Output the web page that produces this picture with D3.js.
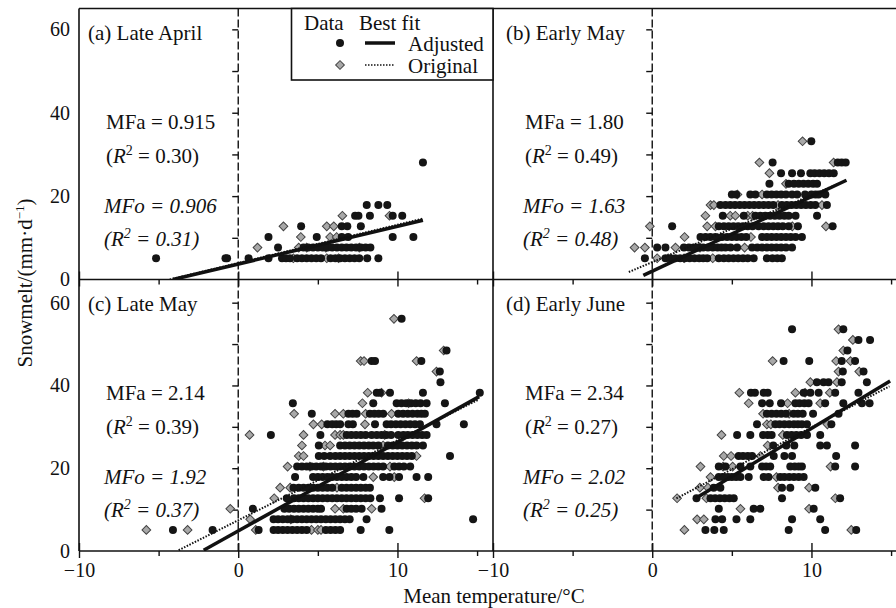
<!DOCTYPE html>
<html>
<head>
<meta charset="utf-8">
<script src="https://cdn.jsdelivr.net/npm/d3@7"></script>
<style>
  body { margin: 0; background: #fff; }
  text { font-family: "Liberation Serif", "Times New Roman", serif; fill: #111; }
</style>
</head>
<body>
<script>
// each row: [snowmelt (mm/d), [mean temperatures]]
// circles = adjusted data, diamonds = original data
var aprilAdj = [
  [28.05, [11.6]],
  [17.85, [8.07, 8.8, 9.36]],
  [15.3, [7.34, 7.55, 8.27, 9.7, 10.3]],
  [12.75, [3.95, 6.5, 6.85, 7.7]],
  [10.2, [1.9, 4.93, 6.5, 6.9, 9.7, 11.0]],
  [7.65, [2.5, 4.1, 4.4, 4.7, 5.0, 5.3, 5.6, 5.9, 6.2, 6.5, 6.8, 7.1, 7.4, 7.7, 8.0, 8.3]],
  [5.1, [-5.16, -0.8, -0.7, 0.65, 1.9, 2.75, 3.0, 3.25, 3.7, 4.0, 4.3, 4.6, 4.9, 5.2, 5.8, 6.1, 6.4, 6.7, 7.0, 7.3, 7.6, 8.1, 8.8]]
];
var aprilOrig = [
  [15.3, [6.54, 9.5]],
  [12.75, [2.84, 5.56, 6.0]],
  [10.2, [3.93, 5.77, 6.18]],
  [7.65, [1.21, 3.8, 4.3, 5.5, 7.6]],
  [5.1, [3.46, 5.56, 6.3]]
];
var earlyMayAdj = [
  [33.15, [9.99]],
  [28.05, [7.56, 11.65, 11.9, 12.15]],
  [25.5, [8.09, 8.78, 9.34, 9.93, 10.2, 10.5, 10.8, 11.1, 11.4]],
  [22.95, [7.36, 8.57, 8.9, 9.2, 9.5, 9.8, 10.1, 10.35]],
  [20.4, [5.0, 5.27, 6.16, 6.48, 7.2, 7.5, 7.8, 8.1, 8.4, 8.78, 9.1, 9.6, 10.0, 10.25, 10.45, 10.87]],
  [17.85, [4.28, 4.6, 4.9, 5.2, 5.5, 5.8, 6.1, 6.4, 6.7, 7.0, 7.3, 7.6, 8.14, 8.45, 8.75, 9.05, 9.35, 9.65, 9.95, 10.24, 10.97]],
  [15.3, [4.43, 5.75, 6.48, 6.8, 7.1, 7.4, 7.7, 8.0, 8.3, 8.57, 9.0, 10.35]],
  [12.75, [1.25, 4.18, 4.5, 4.8, 5.1, 5.4, 5.7, 6.0, 6.3, 6.68, 7.0, 7.3, 7.6, 7.9, 8.2, 8.57, 9.15, 11.33]],
  [10.2, [3.03, 3.35, 3.65, 3.97, 4.39, 4.7, 5.0, 5.3, 5.6, 5.9, 6.9, 7.2, 7.5, 7.8, 8.1, 8.4, 8.7, 9.0, 9.4]],
  [7.65, [0.31, 0.83, 1.99, 2.3, 2.6, 2.9, 3.2, 3.5, 3.8, 4.1, 4.35, 4.6, 4.92, 5.33, 6.27, 6.6, 6.9, 7.2, 7.5, 7.8, 8.1, 8.4, 8.78]],
  [5.1, [-0.46, 0.83, 1.15, 1.45, 1.75, 2.05, 2.35, 2.65, 2.95, 3.2, 3.45, 4.18, 4.5, 4.8, 5.1, 5.4, 5.7, 6.0, 6.37, 7.2, 7.55, 7.85, 8.14]]
];
var earlyMayOrig = [
  [33.15, [9.44]],
  [28.05, [6.73, 11.39]],
  [25.5, [7.36]],
  [22.95, [8.4]],
  [20.4, [5.35, 6.9]],
  [17.85, [3.66, 3.87, 7.9, 10.66]],
  [15.3, [3.34, 4.9, 5.22, 6.0, 6.3]],
  [12.75, [-0.15, 3.45, 3.97, 8.8, 10.91]],
  [10.2, [2.03, 6.2]],
  [7.65, [-1.11, -0.46, 1.46, 3.0, 5.8]],
  [5.1, [0.31, 1.0, 2.0, 3.8]]
];
var lateMayAdj = [
  [56.1, [10.26]],
  [48.45, [13.08]],
  [45.9, [8.38, 8.59, 11.5]],
  [43.35, [12.66]],
  [40.8, [12.7]],
  [38.25, [8.7, 8.9, 9.53, 11.6, 15.17]],
  [35.7, [3.43, 8.48, 9.95, 10.25, 10.55, 10.85, 11.15, 11.45, 11.83, 12.98]],
  [33.15, [4.62, 6.92, 7.18, 7.44, 8.27, 8.55, 8.82, 9.1, 10.05, 10.35, 10.65, 10.95, 11.25, 11.5, 11.72]],
  [30.6, [5.6, 5.9, 6.15, 6.4, 6.92, 7.2, 8.59, 9.32, 9.6, 9.9, 10.2, 10.5, 10.8, 11.1, 11.41, 12.45, 14.17]],
  [28.05, [2.05, 5.16, 6.81, 7.1, 7.4, 7.7, 8.0, 8.38, 8.7, 9.0, 9.3, 9.6, 10.05, 10.37, 10.65, 10.95, 11.25, 11.55, 11.83]],
  [25.5, [5.06, 6.4, 6.7, 7.0, 7.3, 7.6, 7.9, 8.2, 8.48, 8.8, 9.4, 9.7, 10.0, 10.3, 10.6, 10.9, 11.2, 11.6]],
  [22.95, [5.06, 5.4, 5.77, 6.1, 6.4, 6.7, 7.0, 7.3, 7.6, 7.9, 8.2, 8.5, 8.8, 9.1, 9.4, 9.7, 10.0, 10.3, 10.6, 10.9, 13.3]],
  [20.4, [3.7, 4.0, 4.3, 4.6, 4.9, 5.2, 5.5, 5.8, 6.1, 6.4, 6.7, 7.0, 7.3, 7.6, 7.9, 8.2, 8.5, 8.8, 9.1, 9.8, 10.1, 10.4, 10.8]],
  [17.85, [3.57, 4.7, 5.0, 5.3, 5.6, 5.9, 6.2, 6.5, 6.8, 7.1, 7.4, 7.86, 9.1, 9.5, 10.1, 11.2, 11.93]],
  [15.3, [3.47, 3.8, 4.1, 4.4, 4.7, 5.0, 5.3, 5.6, 5.9, 6.5, 6.8, 7.1, 7.4, 7.7, 8.0, 8.27]],
  [12.75, [3.05, 3.5, 3.8, 4.1, 4.4, 4.7, 5.0, 5.3, 5.6, 5.9, 6.2, 6.5, 6.8, 7.1, 7.4, 7.7, 8.0, 8.3, 8.9, 10.1, 11.93]],
  [10.2, [0.92, 2.9, 3.2, 3.5, 3.8, 4.1, 4.4, 4.7, 5.0, 5.2, 6.81, 7.1, 7.4, 7.75, 9.0]],
  [7.65, [2.22, 2.5, 2.8, 3.1, 3.4, 3.7, 4.0, 4.3, 4.6, 4.9, 5.2, 5.5, 5.8, 6.1, 6.4, 6.7, 7.0, 8.06, 14.75]],
  [5.1, [-4.1, -1.61, 1.28, 2.22, 2.5, 2.8, 3.1, 3.4, 3.7, 4.0, 4.3, 5.5, 5.8, 6.1, 6.4, 7.69, 9.49]]
];
var lateMayOrig = [
  [56.1, [9.78]],
  [48.45, [12.9]],
  [45.9, [7.69, 7.9, 11.2]],
  [43.35, [12.45]],
  [38.25, [8.13, 9.0]],
  [35.7, [7.8, 10.7]],
  [33.15, [3.51, 6.08, 6.6, 8.0, 9.63]],
  [30.6, [4.72, 5.24, 7.96]],
  [28.05, [0.71, 4.1, 6.08, 6.4, 6.6, 9.2]],
  [25.5, [4.0, 5.45, 5.77, 9.1]],
  [22.95, [3.8, 4.1, 11.2]],
  [20.4, [3.1, 4.5, 5.35, 9.53]],
  [17.85, [8.48, 9.8]],
  [15.3, [2.63, 3.26, 6.2]],
  [12.75, [2.26, 11.7]],
  [10.2, [-0.5, 6.08, 6.6, 8.38]],
  [7.65, [0.75, 3.3]],
  [5.1, [-5.77, -3.18, 1.1, 4.6, 5.0, 5.2]]
];
var earlyJuneAdj = [
  [53.55, [8.78, 12.0]],
  [51.0, [12.95, 13.68]],
  [48.45, [12.26]],
  [45.9, [8.25, 9.86, 11.9, 12.74]],
  [43.35, [11.97, 13.27]],
  [40.8, [10.34, 10.76, 11.07, 11.9, 13.48]],
  [38.25, [6.2, 6.45, 7.0, 7.25, 9.51, 9.93, 10.45, 11.49, 12.95]],
  [35.7, [6.9, 7.38, 8.09, 8.99, 9.25, 9.55, 9.82, 10.86, 12.0, 13.17, 13.65]],
  [33.15, [7.2, 7.5, 7.8, 8.1, 8.4, 8.88, 9.15, 9.45, 10.1, 11.7]],
  [30.6, [6.58, 7.73, 8.0, 8.3, 8.6, 8.9, 9.15, 9.4, 9.72, 11.25]],
  [28.05, [5.33, 6.16, 6.96, 7.25, 7.5, 8.46, 8.75, 9.05, 9.35, 9.72, 10.55]],
  [25.5, [7.6, 8.42, 8.92, 10.55, 10.97, 12.74]],
  [22.95, [5.43, 5.7, 6.0, 6.27, 7.63, 8.3, 8.78, 11.55]],
  [20.4, [4.18, 4.6, 5.54, 6.16, 6.9, 7.15, 7.41, 8.67, 8.95, 9.2, 9.4, 11.49, 12.74]],
  [17.85, [4.18, 4.45, 4.75, 5.0, 5.27, 5.54, 6.06, 7.0, 7.3, 8.04, 8.3, 8.6, 8.9, 9.2, 9.51]],
  [15.3, [3.86, 4.28, 8.15, 8.67, 10.24]],
  [12.75, [2.78, 3.66, 3.95, 4.25, 4.55, 4.85, 5.12, 8.15, 11.8]],
  [10.2, [4.18, 6.37, 6.79, 10.14]],
  [7.65, [3.97, 4.39, 5.29, 6.16, 8.78, 10.55]],
  [5.1, [3.34, 3.9, 4.49, 8.57, 10.86, 12.81]]
];
var earlyJuneOrig = [
  [53.55, [11.7]],
  [51.0, [12.6]],
  [48.45, [12.0]],
  [45.9, [7.56, 11.55, 12.45]],
  [43.35, [11.7, 13.0]],
  [40.8, [9.93, 11.6]],
  [38.25, [5.47, 8.99, 9.6, 11.15]],
  [35.7, [6.06, 8.5, 10.55]],
  [33.15, [6.96, 8.6]],
  [30.6, [7.2, 7.45, 11.0]],
  [28.05, [4.35, 8.2]],
  [25.5, [7.25]],
  [22.95, [4.49, 4.95, 6.8]],
  [20.4, [3.03, 4.45, 5.05, 11.2]],
  [17.85, [3.66, 7.8]],
  [15.3, [2.99, 3.5, 7.9, 9.85]],
  [12.75, [1.56, 3.4, 11.5]],
  [10.2, [5.54, 9.85]],
  [7.65, [2.82, 3.24]],
  [5.1, [2.02, 12.5]]
];

// best fit line end points [temperature, snowmelt]
var aprilFitAdj = [[-4.1, 0], [11.6, 14.2]];
var aprilFitOrig = [[-4.3, 0], [11.6, 14.6]];
var earlyMayFitAdj = [[-0.56, 1.0], [12.2, 23.8]];
var earlyMayFitOrig = [[-1.47, 1.8], [11.6, 22.8]];
var lateMayFitAdj = [[-2.17, 0.2], [15.13, 37.3]];
var lateMayFitOrig = [[-3.74, 0.2], [15.1, 36.6]];
var earlyJuneFitAdj = [[2.71, 12.7], [14.94, 41.1]];
var earlyJuneFitOrig = [[1.52, 12.7], [14.9, 39.8]];

var titles = ["(a) Late April", "(b) Early May", "(c) Late May", "(d) Early June"];
var mfa = ["0.915", "1.80", "2.14", "2.34"];
var r2a = ["0.30", "0.49", "0.39", "0.27"];
var mfo = ["0.906", "1.63", "1.92", "2.02"];
var r2o = ["0.31", "0.48", "0.37", "0.25"];

var xTicksMajor = [-10, 0, 10];
var xTicksMinor = [-5, 5, 15];
var yLabelTicks = [0, 20, 40, 60];
var yTicks = [10, 20, 30, 40, 50, 60];

var width = 896, height = 608;
var svg = d3.select('body').append('svg')
  .attr('width', width)
  .attr('height', height);

// panel geometry
var cols = [[79, 493], [493, 907]];
var rows = [{ range: [279.5, 8.5], top: 8.5, bottom: 279.5, max: 65 },
            { range: [551, 279.5], top: 279.5, bottom: 551, max: 65.6 }];

var panels = [
  { adj: aprilAdj, orig: aprilOrig, fa: aprilFitAdj, fo: aprilFitOrig },
  { adj: earlyMayAdj, orig: earlyMayOrig, fa: earlyMayFitAdj, fo: earlyMayFitOrig },
  { adj: lateMayAdj, orig: lateMayOrig, fa: lateMayFitAdj, fo: lateMayFitOrig },
  { adj: earlyJuneAdj, orig: earlyJuneOrig, fa: earlyJuneFitAdj, fo: earlyJuneFitOrig }
];

function flatten(rowsData) {
  var out = [];
  rowsData.forEach(function(r) {
    r[1].forEach(function(t) { out.push([t, r[0]]); });
  });
  return out;
}

var diamond = d3.symbol().type(d3.symbolSquare).size(38)();

panels.forEach(function(p, i) {
  var c = i % 2, r = Math.floor(i / 2);
  var x = d3.scaleLinear().domain([-10, 16]).range(cols[c]);
  var y = d3.scaleLinear().domain([0, rows[r].max]).range(rows[r].range);
  var x0 = cols[c][0], top = rows[r].top, bottom = rows[r].bottom;

  var g = svg.append('g');

  svg.append('clipPath').attr('id', 'clip' + i)
    .append('rect')
    .attr('x', x0).attr('y', top)
    .attr('width', cols[c][1] - x0).attr('height', bottom - top);

  // dashed zero line
  g.append('line')
    .attr('x1', x(0)).attr('x2', x(0))
    .attr('y1', top).attr('y2', bottom)
    .attr('stroke', '#111')
    .attr('stroke-width', 1.4)
    .attr('stroke-dasharray', '8,3');

  // y ticks on the zero line
  var ya = g.append('g')
    .attr('transform', 'translate(' + x(0) + ',0)')
    .call(d3.axisLeft(y).tickValues(yTicks).tickSize(6).tickFormat(''));
  ya.select('.domain').remove();
  ya.selectAll('line').attr('stroke', '#111').attr('stroke-width', 1.4);

  // x ticks
  var xa1 = g.append('g')
    .attr('transform', 'translate(0,' + bottom + ')')
    .call(d3.axisBottom(x).tickValues(xTicksMinor).tickSize(5).tickFormat(''));
  var xa2 = g.append('g')
    .attr('transform', 'translate(0,' + bottom + ')')
    .call(d3.axisBottom(x).tickValues(xTicksMajor).tickSize(7).tickFormat(''));
  var xa3 = g.append('g')
    .attr('transform', 'translate(0,' + bottom + ')')
    .call(d3.axisBottom(x).tickValues(xTicksMajor).tickSize(-8).tickFormat(''));
  [xa1, xa2, xa3].forEach(function(a) {
    a.select('.domain').remove();
    a.selectAll('line').attr('stroke', '#111').attr('stroke-width', 1.4);
  });

  if (c === 0) {
    var yl = g.append('g')
      .attr('transform', 'translate(' + x0 + ',0)')
      .call(d3.axisLeft(y).tickValues(yLabelTicks).tickSize(0).tickPadding(9));
    yl.select('.domain').remove();
    yl.selectAll('text')
      .style('font-family', '"Liberation Serif", serif')
      .style('font-size', '20px').attr('fill', '#111');
  }
  if (r === 1) {
    var xl = g.append('g')
      .attr('transform', 'translate(0,' + bottom + ')')
      .call(d3.axisBottom(x).tickValues(xTicksMajor).tickSize(0).tickPadding(12));
    xl.select('.domain').remove();
    xl.selectAll('text')
      .style('font-family', '"Liberation Serif", serif')
      .style('font-size', '20px').attr('fill', '#111');
  }

  var marks = g.append('g').attr('clip-path', 'url(#clip' + i + ')');

  // original data (diamonds)
  marks.selectAll('path.orig')
    .data(flatten(p.orig))
    .enter().append('path')
    .attr('class', 'orig')
    .attr('d', diamond)
    .attr('transform', function(d) { return 'translate(' + x(d[0]) + ',' + y(d[1]) + ') rotate(45)'; })
    .attr('fill', '#a8a8a8')
    .attr('stroke', '#444')
    .attr('stroke-width', 1);

  // adjusted data (circles)
  marks.selectAll('circle')
    .data(flatten(p.adj))
    .enter().append('circle')
    .attr('cx', function(d) { return x(d[0]); })
    .attr('cy', function(d) { return y(d[1]); })
    .attr('r', 4)
    .attr('fill', '#151515');

  var line = d3.line().x(function(d) { return x(d[0]); }).y(function(d) { return y(d[1]); });
  marks.append('path').attr('d', line(p.fa))
    .attr('fill', 'none').attr('stroke', '#111').attr('stroke-width', 3.5);
  marks.append('path').attr('d', line(p.fo))
    .attr('fill', 'none').attr('stroke', '#111').attr('stroke-width', 2)
    .attr('stroke-dasharray', '1.5,1.5');

  // texts
  var tx = x0 + (c === 0 ? 9 : 13);
  g.append('text').attr('x', tx).attr('y', top + 31)
    .style('font-size', '21px').text(titles[i]);

  var ax = x0 + (c === 0 ? 27 : 32);
  g.append('text').attr('x', ax).attr('y', top + 120)
    .style('font-size', '21px').text('MFa = ' + mfa[i]);
  var t2 = g.append('text').attr('x', ax).attr('y', top + 154).style('font-size', '21px');
  t2.append('tspan').text('(');
  t2.append('tspan').style('font-style', 'italic').text('R');
  t2.append('tspan').attr('dy', -8).style('font-size', '14px').text('2');
  t2.append('tspan').attr('dy', 8).text(' = ' + r2a[i] + ')');

  g.append('text').attr('x', ax - 2).attr('y', top + 204)
    .style('font-size', '21px').style('font-style', 'italic').text('MFo = ' + mfo[i]);
  var t4 = g.append('text').attr('x', ax - 2).attr('y', top + 237)
    .style('font-size', '21px').style('font-style', 'italic');
  t4.append('tspan').text('(R');
  t4.append('tspan').attr('dy', -8).style('font-size', '14px').text('2');
  t4.append('tspan').attr('dy', 8).text(' = ' + r2o[i] + ')');
});

// frame and dividers
var frame = svg.append('g').attr('stroke', '#111').attr('stroke-width', 1.6).attr('fill', 'none');
frame.append('line').attr('x1', 79).attr('x2', 896).attr('y1', 8.5).attr('y2', 8.5);
frame.append('line').attr('x1', 79).attr('x2', 896).attr('y1', 279.5).attr('y2', 279.5);
frame.append('line').attr('x1', 79).attr('x2', 896).attr('y1', 551).attr('y2', 551);
frame.append('line').attr('x1', 79).attr('x2', 79).attr('y1', 8.5).attr('y2', 551);
frame.append('line').attr('x1', 493).attr('x2', 493).attr('y1', 8.5).attr('y2', 551);

// legend
var lg = svg.append('g');
lg.append('rect').attr('x', 291.5).attr('y', 8.5).attr('width', 201.5).attr('height', 71.5)
  .attr('fill', '#fff').attr('stroke', '#111').attr('stroke-width', 1.6);
lg.append('text').attr('x', 304).attr('y', 30).style('font-size', '21px').text('Data');
lg.append('text').attr('x', 359).attr('y', 30).style('font-size', '21px').text('Best fit');
lg.append('text').attr('x', 408).attr('y', 51).style('font-size', '21px').text('Adjusted');
lg.append('text').attr('x', 408).attr('y', 73).style('font-size', '21px').text('Original');
lg.append('circle').attr('cx', 340).attr('cy', 43).attr('r', 4).attr('fill', '#151515');
lg.append('path').attr('d', diamond).attr('transform', 'translate(340,65) rotate(45)')
  .attr('fill', '#a8a8a8').attr('stroke', '#444').attr('stroke-width', 1);
lg.append('line').attr('x1', 365).attr('x2', 395).attr('y1', 43).attr('y2', 43)
  .attr('stroke', '#111').attr('stroke-width', 3.5);
lg.append('line').attr('x1', 365).attr('x2', 395).attr('y1', 65).attr('y2', 65)
  .attr('stroke', '#111').attr('stroke-width', 1.5).attr('stroke-dasharray', '1.5,1.5');

// axis titles
var yt = svg.append('text')
  .attr('transform', 'translate(32,283) rotate(-90)')
  .attr('text-anchor', 'middle')
  .style('font-size', '21px');
yt.append('tspan').text('Snowmelt/(mm·d');
yt.append('tspan').attr('dy', -8).style('font-size', '13px').text('−1');
yt.append('tspan').attr('dy', 8).text(')');

svg.append('text')
  .attr('x', 494).attr('y', 603)
  .attr('text-anchor', 'middle')
  .style('font-size', '21px')
  .text('Mean temperature/°C');
</script>
</body>
</html>
